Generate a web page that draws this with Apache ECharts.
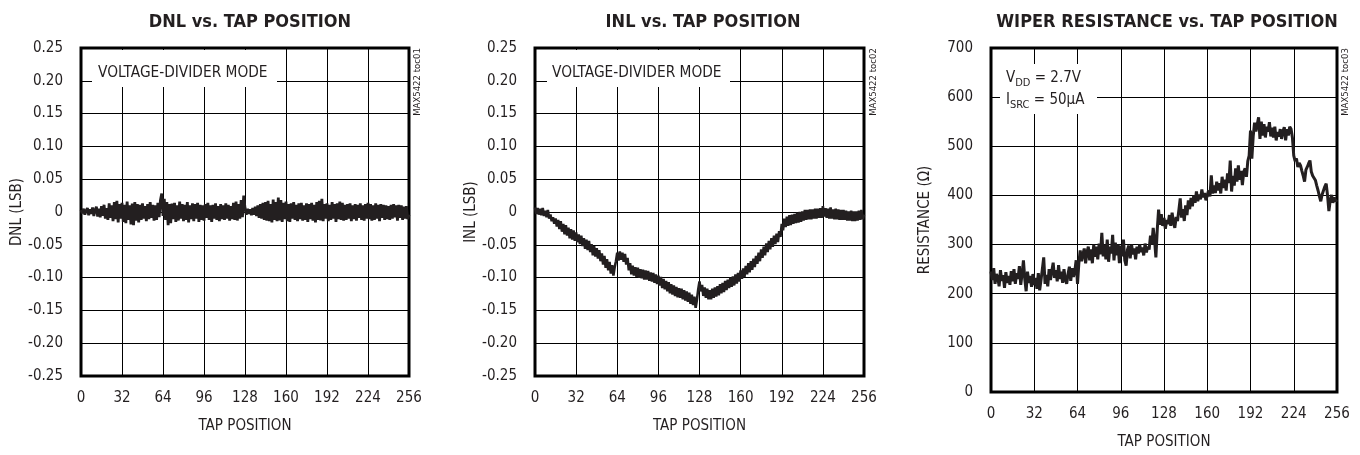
<!DOCTYPE html>
<html>
<head>
<meta charset="utf-8">
<script src="https://cdn.jsdelivr.net/npm/echarts@6/dist/echarts.min.js"></script>
<style>
html,body{margin:0;padding:0;background:#fff;}
#c{width:1360px;height:455px;}
</style>
</head>
<body>
<div id="c"></div>
<script>
const chartTitles = ['DNL vs. TAP POSITION', 'INL vs. TAP POSITION', 'WIPER RESISTANCE vs. TAP POSITION'];
const yAxisNames = ['DNL (LSB)', 'INL (LSB)', 'RESISTANCE (Ω)'];
const xAxisName = 'TAP POSITION';
const sideLabels = ['MAX5422 toc01', 'MAX5422 toc02', 'MAX5422 toc03'];

// tap positions 0..256 (one value per tap, rows of 16)
const tapPositions = [
0,1,2,3,4,5,6,7,8,9,10,11,12,13,14,15,
16,17,18,19,20,21,22,23,24,25,26,27,28,29,30,31,
32,33,34,35,36,37,38,39,40,41,42,43,44,45,46,47,
48,49,50,51,52,53,54,55,56,57,58,59,60,61,62,63,
64,65,66,67,68,69,70,71,72,73,74,75,76,77,78,79,
80,81,82,83,84,85,86,87,88,89,90,91,92,93,94,95,
96,97,98,99,100,101,102,103,104,105,106,107,108,109,110,111,
112,113,114,115,116,117,118,119,120,121,122,123,124,125,126,127,
128,129,130,131,132,133,134,135,136,137,138,139,140,141,142,143,
144,145,146,147,148,149,150,151,152,153,154,155,156,157,158,159,
160,161,162,163,164,165,166,167,168,169,170,171,172,173,174,175,
176,177,178,179,180,181,182,183,184,185,186,187,188,189,190,191,
192,193,194,195,196,197,198,199,200,201,202,203,204,205,206,207,
208,209,210,211,212,213,214,215,216,217,218,219,220,221,222,223,
224,225,226,227,228,229,230,231,232,233,234,235,236,237,238,239,
240,241,242,243,244,245,246,247,248,249,250,251,252,253,254,255,
256];

const dnlValues = [
0.003,-0.002,0.005,-0.004,0.002,0.006,-0.005,0.004,-0.003,0.007,-0.006,0.003,0.008,-0.007,0.005,-0.008,
0.009,-0.006,0.011,-0.010,0.006,-0.012,0.013,-0.009,0.010,-0.014,0.015,-0.011,0.017,-0.016,0.012,-0.010,
0.014,-0.015,0.011,-0.017,0.016,-0.012,0.010,-0.019,0.013,-0.020,0.015,-0.013,0.012,-0.016,0.011,-0.012,
0.013,-0.010,0.009,-0.014,0.012,-0.011,0.015,-0.009,0.011,-0.013,0.010,-0.012,0.014,-0.008,0.018,0.028,
-0.006,0.020,-0.012,0.015,-0.020,0.012,-0.017,0.013,-0.011,0.014,-0.015,0.010,-0.013,0.016,-0.010,0.012,
-0.014,0.011,-0.012,0.015,-0.016,0.010,-0.011,0.013,-0.014,0.012,-0.010,0.014,-0.015,0.011,-0.012,0.010,
-0.013,0.012,-0.009,0.014,-0.012,0.010,-0.015,0.011,-0.010,0.013,-0.012,0.009,-0.014,0.012,-0.011,0.010,
-0.012,0.013,-0.010,0.011,-0.013,0.009,-0.011,0.014,-0.012,0.016,-0.013,0.012,-0.010,0.018,-0.008,0.025,
0.006,-0.004,0.005,-0.003,0.004,-0.005,0.006,-0.004,0.008,-0.006,0.010,-0.009,0.012,-0.010,0.014,-0.012,
0.015,-0.013,0.017,-0.014,0.012,-0.016,0.019,-0.012,0.015,-0.014,0.022,-0.013,0.018,-0.015,0.014,-0.011,
0.016,-0.014,0.012,-0.015,0.013,-0.010,0.015,-0.012,0.011,-0.014,0.013,-0.011,0.014,-0.013,0.010,-0.012,
0.013,-0.015,0.012,-0.011,0.014,-0.013,0.011,-0.016,0.015,-0.012,0.017,-0.013,0.020,-0.014,0.012,-0.010,
0.013,-0.014,0.011,-0.012,0.015,-0.010,0.012,-0.015,0.013,-0.011,0.016,-0.012,0.014,-0.013,0.011,-0.012,
0.012,-0.010,0.013,-0.014,0.010,-0.011,0.012,-0.013,0.011,-0.009,0.013,-0.012,0.010,-0.013,0.012,-0.010,
0.014,-0.011,0.012,-0.013,0.010,-0.012,0.013,-0.010,0.011,-0.014,0.012,-0.009,0.011,-0.012,0.010,-0.011,
0.009,-0.012,0.011,-0.010,0.012,-0.008,0.010,-0.013,0.011,-0.009,0.010,-0.012,0.008,-0.010,0.009,-0.011,
-0.004];

const inlValues = [
0.007,-0.003,0.006,-0.004,0.005,-0.005,0.006,-0.006,0.002,-0.008,0.003,-0.010,-0.004,-0.014,-0.008,-0.018,
-0.010,-0.022,-0.012,-0.026,-0.014,-0.030,-0.018,-0.034,-0.020,-0.036,-0.024,-0.040,-0.026,-0.042,-0.028,-0.044,
-0.031,-0.046,-0.034,-0.049,-0.036,-0.052,-0.040,-0.056,-0.042,-0.058,-0.044,-0.061,-0.049,-0.066,-0.052,-0.068,
-0.055,-0.071,-0.058,-0.075,-0.063,-0.080,-0.067,-0.085,-0.072,-0.089,-0.076,-0.094,-0.081,-0.097,-0.084,-0.075,
-0.062,-0.074,-0.060,-0.073,-0.062,-0.076,-0.064,-0.080,-0.070,-0.089,-0.078,-0.095,-0.082,-0.097,-0.084,-0.099,
-0.085,-0.100,-0.087,-0.101,-0.088,-0.103,-0.089,-0.103,-0.090,-0.105,-0.092,-0.106,-0.093,-0.108,-0.095,-0.110,
-0.097,-0.112,-0.099,-0.116,-0.102,-0.118,-0.105,-0.121,-0.107,-0.124,-0.110,-0.126,-0.112,-0.128,-0.114,-0.130,
-0.116,-0.131,-0.117,-0.133,-0.119,-0.135,-0.121,-0.137,-0.123,-0.140,-0.126,-0.142,-0.129,-0.146,-0.134,-0.118,
-0.106,-0.121,-0.111,-0.128,-0.115,-0.131,-0.117,-0.133,-0.119,-0.133,-0.117,-0.131,-0.115,-0.129,-0.113,-0.127,
-0.110,-0.124,-0.108,-0.122,-0.105,-0.119,-0.103,-0.116,-0.100,-0.114,-0.098,-0.112,-0.095,-0.109,-0.093,-0.106,
-0.089,-0.102,-0.086,-0.099,-0.082,-0.095,-0.078,-0.092,-0.075,-0.088,-0.071,-0.084,-0.067,-0.079,-0.062,-0.075,
-0.057,-0.070,-0.053,-0.066,-0.048,-0.061,-0.044,-0.057,-0.040,-0.053,-0.036,-0.049,-0.033,-0.046,-0.029,-0.038,
-0.018,-0.028,-0.010,-0.023,-0.007,-0.021,-0.005,-0.020,-0.004,-0.018,-0.003,-0.017,-0.001,-0.016,0.000,-0.015,
0.001,-0.013,0.003,-0.012,0.003,-0.011,0.004,-0.011,0.004,-0.010,0.005,-0.010,0.005,-0.009,0.006,-0.009,
0.009,-0.007,0.006,-0.009,0.005,-0.010,0.007,-0.010,0.004,-0.011,0.005,-0.011,0.004,-0.012,0.003,-0.012,
0.003,-0.012,0.002,-0.013,0.001,-0.013,0.002,-0.014,0.001,-0.014,0.001,-0.013,0.002,-0.012,0.003,-0.011,
-0.004];

const resistanceValues = [
245,228,252,220,240,234,215,248,226,238,212,244,222,236,218,246,
225,250,220,242,230,256,218,240,268,230,205,245,222,236,214,240,
218,232,210,242,207,228,250,274,220,238,215,250,228,246,263,232,
248,225,258,230,245,222,250,228,220,240,255,226,252,234,246,268,
220,262,288,266,280,292,262,284,296,268,290,262,300,275,296,270,
302,280,324,276,300,270,310,265,296,282,320,268,304,278,300,262,
298,276,310,268,257,290,298,272,300,280,292,270,296,282,300,285,
294,278,302,284,296,290,318,300,334,310,274,330,371,340,362,338,
354,332,350,342,360,338,365,345,334,356,348,370,394,355,372,348,
380,360,390,372,395,378,400,385,408,388,402,392,412,396,405,390,
391,410,398,441,404,420,405,428,410,425,404,438,415,432,410,445,
425,471,408,440,420,455,428,461,432,450,421,448,455,438,470,481,
532,475,520,548,530,545,559,515,550,522,545,518,540,530,549,520,
538,518,540,512,529,520,535,515,530,539,512,535,522,540,535,518,
481,470,475,458,466,461,450,440,428,452,458,465,471,448,440,436,
431,420,410,398,388,402,405,418,424,400,368,390,401,385,396,388,
391];

const dnlTicks = {min: -0.25, max: 0.25, interval: 0.05};
const inlTicks = {min: -0.25, max: 0.25, interval: 0.05};
const resTicks = {min: 0, max: 700, interval: 100};
const tapTicks = {min: 0, max: 256, interval: 32};

const FONT = "'Liberation Sans Narrow','Arial Narrow','DejaVu Sans Condensed','Roboto Condensed',sans-serif";
const INK = '#231f20';

function pairs(vals){ return tapPositions.map((t,i)=>[t, vals[i]]); }

const grids = [
  {left: 81, top: 48, width: 328, height: 328},
  {left: 535, top: 48, width: 329, height: 328},
  {left: 991, top: 48, width: 346, height: 348}
];

function xAx(i){
  return {
    type: 'value', gridIndex: i, min: tapTicks.min, max: tapTicks.max, interval: tapTicks.interval,
    name: xAxisName, nameLocation: 'middle', nameGap: 43,
    nameTextStyle: {fontFamily: FONT, fontSize: 15, color: INK},
    axisLine: {show: false}, axisTick: {show: false},
    axisLabel: {fontFamily: FONT, fontSize: 15, color: INK, margin: 15},
    splitLine: {show: true, lineStyle: {color: '#000', width: 1}}
  };
}
function yAx(i, t, fmt, gap){
  return {
    type: 'value', gridIndex: i, min: t.min, max: t.max, interval: t.interval,
    name: yAxisNames[i], nameLocation: 'middle', nameGap: gap, nameRotate: 90,
    nameTextStyle: {fontFamily: FONT, fontSize: 15, color: INK},
    axisLine: {show: false}, axisTick: {show: false},
    axisLabel: {fontFamily: FONT, fontSize: 15, color: INK, margin: 18, formatter: fmt},
    splitLine: {show: true, lineStyle: {color: '#000', width: 1}}
  };
}
const lsbFmt = v => Math.abs(v) < 1e-9 ? '0' : v.toFixed(2);

const titleCenters = [245, 698, 1162];

const subRich = {
  n: {fontFamily: FONT, fontSize: 15, color: INK, lineHeight: 18, verticalAlign: 'bottom'},
  s: {fontFamily: FONT, fontSize: 11, color: INK, lineHeight: 12, verticalAlign: 'bottom', padding: [0,0,-3,0]}
};

const option = {
  animation: false,
  backgroundColor: '#fff',
  title: chartTitles.map((t,i)=>({
    text: t, left: titleCenters[i], top: 8, textAlign: 'center',
    textStyle: {fontFamily: FONT, fontSize: 18, fontWeight: 'bold', color: INK}
  })),
  grid: grids.map(g => Object.assign({show: true, borderColor: '#000', borderWidth: 3, backgroundColor: 'transparent'}, g)),
  xAxis: [xAx(0), xAx(1), xAx(2)],
  yAxis: [yAx(0, dnlTicks, lsbFmt, 56), yAx(1, inlTicks, lsbFmt, 56), yAx(2, resTicks, v => String(v), 58)],
  series: [
    {type: 'line', xAxisIndex: 0, yAxisIndex: 0, data: pairs(dnlValues), showSymbol: false, lineStyle: {color: INK, width: 2.8}, z: 3},
    {type: 'line', xAxisIndex: 1, yAxisIndex: 1, data: pairs(inlValues), showSymbol: false, lineStyle: {color: INK, width: 2.6}, z: 3},
    {type: 'line', xAxisIndex: 2, yAxisIndex: 2, data: pairs(resistanceValues), showSymbol: false, lineStyle: {color: INK, width: 3}, z: 3}
  ],
  graphic: [
    {type: 'rect', z: 100, shape: {x: 92, y: 50, width: 185, height: 37}, style: {fill: '#fff'}},
    {type: 'text', z: 101, x: 98, y: 73, style: {text: 'VOLTAGE-DIVIDER MODE', fontFamily: FONT, fontSize: 15.3, fill: INK, verticalAlign: 'middle'}},
    {type: 'rect', z: 100, shape: {x: 547, y: 50, width: 183, height: 37}, style: {fill: '#fff'}},
    {type: 'text', z: 101, x: 552, y: 73, style: {text: 'VOLTAGE-DIVIDER MODE', fontFamily: FONT, fontSize: 15.3, fill: INK, verticalAlign: 'middle'}},
    {type: 'rect', z: 100, shape: {x: 1000, y: 64, width: 97, height: 50}, style: {fill: '#fff'}},
    {type: 'text', z: 101, x: 1006, y: 77, style: {text: '{n|V}{s|DD}{n| = 2.7V}', fill: INK, verticalAlign: 'middle', rich: subRich}},
    {type: 'text', z: 101, x: 1006, y: 99, style: {text: '{n|I}{s|SRC}{n| = 50μA}', fill: INK, verticalAlign: 'middle', rich: subRich}},
    {type: 'text', z: 101, x: 418, y: 82, rotation: Math.PI/2, style: {text: sideLabels[0], fontFamily: FONT, fontSize: 9.5, fill: INK, align: 'center', verticalAlign: 'middle'}},
    {type: 'text', z: 101, x: 874, y: 82, rotation: Math.PI/2, style: {text: sideLabels[1], fontFamily: FONT, fontSize: 9.5, fill: INK, align: 'center', verticalAlign: 'middle'}},
    {type: 'text', z: 101, x: 1346, y: 82, rotation: Math.PI/2, style: {text: sideLabels[2], fontFamily: FONT, fontSize: 9.5, fill: INK, align: 'center', verticalAlign: 'middle'}}
  ]
};
const chart = echarts.init(document.getElementById('c'), null, {renderer: 'canvas'});
chart.setOption(option);
</script>
</body>
</html>
